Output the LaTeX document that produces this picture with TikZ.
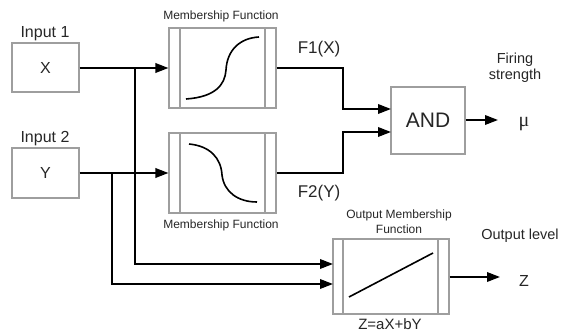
\documentclass[tikz,border=0pt]{standalone}
\usepackage{fontspec}
\setmainfont{Liberation Sans}
\newfontfamily\muserif{Liberation Serif}
\usetikzlibrary{arrows.meta}
\begin{document}
\begin{tikzpicture}[x=1pt,y=-1pt,
  box/.style={draw=black!38,line width=1.1pt,fill=white,inner sep=0pt},
  inner/.style={draw=black!38,line width=1.1pt},
  wire/.style={line width=1.9pt,black},
  arr/.style={wire,-{Triangle[length=13pt,width=9.5pt]}},
  curve/.style={line width=1.6pt,black},
  txt/.style={text=black!85,inner sep=0pt},
  fA/.style={font=\fontsize{16}{19}\selectfont},
  fB/.style={font=\fontsize{12}{15}\selectfont},
  fC/.style={font=\fontsize{14.5}{16.5}\selectfont},
  fD/.style={font=\fontsize{17}{20}\selectfont}]
\useasboundingbox (0,0) rectangle (561,336);
% input boxes
\node[box,minimum width=67pt,minimum height=49pt] (X) at (45.5,67.5) {};
\node[txt,fA] (Xl) at (X.center) {X};
\node[txt,fA] (in1) at (45,34) {Input 1};
\node[box,minimum width=67pt,minimum height=50pt] (Y) at (45.5,173) {};
\node[txt,fA] (Yl) at (Y.center) {Y};
\node[txt,fA] (in2) at (45,139) {Input 2};
% membership function boxes
\node[box,minimum width=107pt,minimum height=80pt] (MF1) at (222.5,68) {};
\draw[inner] (180,28) -- (180,108) (265,28) -- (265,108);
\draw[curve] (186,99) .. controls (215,97) and (225,85) .. (226,70) .. controls (227,50) and (240,38) .. (259,37);
\node[txt,fB] (mf1t) at (221,16) {Membership Function};
\node[box,minimum width=107pt,minimum height=80pt] (MF2) at (222.5,173) {};
\draw[inner] (180,133) -- (180,213) (265,133) -- (265,213);
\draw[curve] (189,144) .. controls (210,146) and (221,158) .. (222,175) .. controls (224,192) and (238,202) .. (257,202);
\node[txt,fB] (mf2t) at (221,225) {Membership Function};
% AND box
\node[box,minimum width=74pt,minimum height=67pt] (AND) at (428,120.5) {};
\node[txt,font=\fontsize{21}{24}\selectfont] (ANDl) at (AND.center) {AND};
% output box
\node[box,minimum width=116pt,minimum height=75pt] (OUT) at (391,276.5) {};
\draw[inner] (343,239) -- (343,314) (438,239) -- (438,314);
\draw[curve] (349,297) -- (433,253);
\node[txt,fB,align=center] (outt) at (399,222) {Output Membership\\Function};
\node[txt,font=\fontsize{15}{18}\selectfont] (eq) at (390,324) {Z=aX+bY};
% labels
\node[txt,fD] (f1) at (319,49) {F1(X)};
\node[txt,fD] (f2) at (319,193) {F2(Y)};
\node[txt,fC,align=center] (fs) at (515,68) {Firing\\strength};
\node[txt,fC] (ol) at (520,236) {Output level};
\node[txt,font=\muserif\fontsize{20}{22}\selectfont] (mu) at (524,124) {μ};
\node[txt,fA] (Z) at (524,281) {Z};
% coordinates
\coordinate (b1) at (135,68);
\coordinate (b2) at (112,173);
\coordinate (j1) at (343,68);
\coordinate (j2) at (343,173);
\coordinate (a1) at (391,109);
\coordinate (a2) at (391,132);
\coordinate (o1) at (333,264);
\coordinate (o2) at (333,284);
\coordinate (muend) at (498,120);
\coordinate (zend) at (500,277);
% wires
\draw[arr] (X.east |- b1) -- (MF1.west |- b1);
\draw[arr] (Y.east |- b2) -- (MF2.west |- b2);
\draw[arr] (b1) |- (o1);
\draw[arr] (b2) |- (o2);
\draw[arr] (MF1.east |- j1) -- (j1) |- (a1);
\draw[arr] (MF2.east |- j2) -- (j2) |- (a2);
\draw[arr] (AND.east |- muend) -- (muend);
\draw[arr] (OUT.east |- zend) -- (zend);
\end{tikzpicture}
\end{document}
